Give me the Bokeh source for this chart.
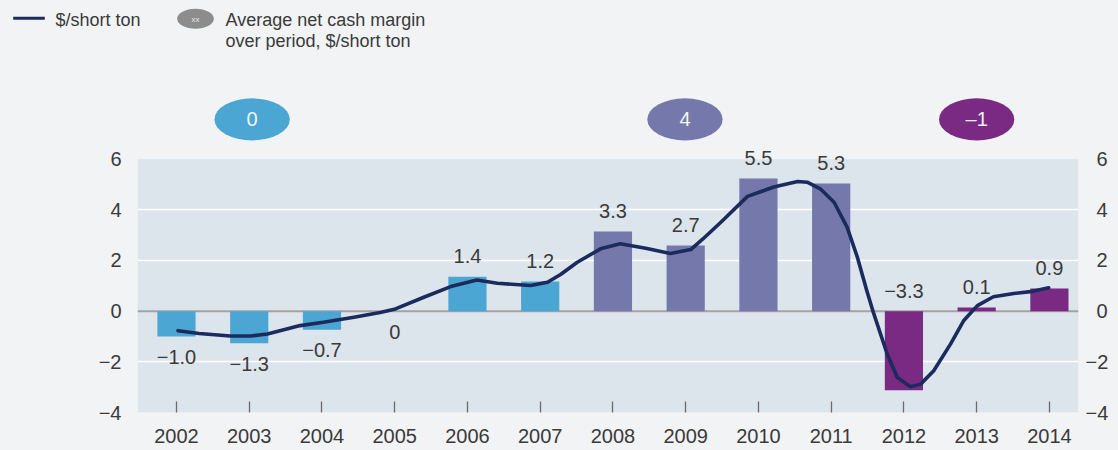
from bokeh.plotting import figure
from bokeh.models import Range1d, FixedTicker, LinearAxis, BoxAnnotation, Span, ColumnDataSource
from bokeh.layouts import column
from bokeh.core.properties import value
from bokeh.embed import file_html
from bokeh.resources import INLINE

# ---------------- data ----------------
years = [2002, 2003, 2004, 2005, 2006, 2007, 2008, 2009, 2010, 2011, 2012, 2013, 2014]
bar_values = [-1.0, -1.27, -0.73, 0.0, 1.36, 1.17, 3.14, 2.59, 5.24, 5.04, -3.12, 0.14, 0.89]
value_labels = ["−1.0", "−1.3", "−0.7", "0", "1.4", "1.2", "3.3", "2.7", "5.5", "5.3", "−3.3", "0.1", "0.9"]
period = ["A", "A", "A", "A", "A", "A", "B", "B", "B", "B", "C", "C", "C"]

period_names = ["A", "B", "C"]
period_avg_labels = ["0", "4", "–1"]

line_x = [2002.02, 2002.31, 2002.74, 2003.02, 2003.25, 2003.70, 2004.02, 2004.44, 2004.80,
          2005.01, 2005.40, 2005.77, 2006.13, 2006.41, 2006.87, 2007.10, 2007.28, 2007.51,
          2007.83, 2008.10, 2008.45, 2008.79, 2009.07, 2009.24, 2009.48, 2009.85, 2010.21,
          2010.54, 2010.67, 2010.85, 2011.04, 2011.22, 2011.36, 2011.49, 2011.58, 2011.77,
          2011.91, 2012.09, 2012.23, 2012.41, 2012.64, 2012.82, 2013.01, 2013.23, 2013.51,
          2013.74, 2013.99]
line_y = [-0.77, -0.88, -0.98, -0.98, -0.90, -0.57, -0.44, -0.24, -0.05,
          0.09, 0.55, 0.97, 1.23, 1.10, 1.01, 1.14, 1.45, 1.93,
          2.46, 2.66, 2.48, 2.28, 2.43, 2.86, 3.50, 4.53, 4.90,
          5.12, 5.09, 4.83, 4.30, 3.31, 2.13, 0.81, -0.05, -1.69,
          -2.62, -2.98, -2.88, -2.35, -1.30, -0.38, 0.22, 0.57, 0.70,
          0.77, 0.92]

y_ticks = [-4, -2, 0, 2, 4, 6]
legend_line_label = "$/short ton"
legend_badge_label = ["Average net cash margin", "over period, $/short ton"]

# ---------------- style ----------------
PAGE = "#f1f3f5"
PLOT_BG = "#dce4ec"
NAVY = "#1c2b5e"
TEXT = "#3a3a3a"
FONT = "Liberation Sans"
period_colors = {"A": "#4ba6d4", "B": "#7478aa", "C": "#7b2a84"}
badge_x = {"A": 2003.04, "B": 2008.99, "C": 2013.0}   # layout positions of the badges
badge_y = 7.57

W = 1118

# ---------------- legend strip (pixel-like coordinates) ----------------
lg = figure(width=W, height=50, x_range=Range1d(0, W), y_range=Range1d(50, 0),
            output_backend="svg", toolbar_location=None, x_axis_type=None, y_axis_type=None,
            min_border=0, outline_line_color=None,
            background_fill_color=PAGE, border_fill_color=PAGE)
lg.frame_align = False
lg.xgrid.visible = False
lg.ygrid.visible = False
lg.line([12.7, 44.3], [17.8, 17.8], line_color=NAVY, line_width=3)
lg.text(x=[55], y=[19], text=[legend_line_label], text_font=value(FONT), text_font_size="18px",
        text_color=TEXT, text_align="left", text_baseline="middle")
lg.ellipse(x=[195], y=[18.3], width=36.7, height=20, fill_color="#8c8c8c", line_color=None)
lg.text(x=[195], y=[18.8], text=["xx"], text_font=value(FONT), text_font_size="8px",
        text_color="#e8e8e8", text_align="center", text_baseline="middle")
lg.text(x=[225, 225], y=[19, 40], text=legend_badge_label, text_font=value(FONT),
        text_font_size="18px", text_color=TEXT, text_align="left", text_baseline="middle")

# ---------------- main chart ----------------
p = figure(width=W, height=400,
           x_range=Range1d(2002 - 0.536, 2014 + 0.40), y_range=Range1d(-4, 8.71),
           output_backend="svg", toolbar_location=None,
           min_border_left=137, min_border_right=40, min_border_top=40, min_border_bottom=38,
           outline_line_color=None, background_fill_color=PAGE, border_fill_color=PAGE)
p.frame_align = False

p.add_layout(BoxAnnotation(bottom=-4, top=6, fill_color=PLOT_BG, fill_alpha=1,
                           line_color=None, level="image"))

p.xgrid.visible = False
p.ygrid.ticker = FixedTicker(ticks=[-2, 2, 4])
p.ygrid.grid_line_color = "white"
p.ygrid.grid_line_width = 1.6

p.add_layout(Span(location=0, dimension="width", line_color="#a3a3a3", line_width=2,
                  level="underlay"))

src = ColumnDataSource(dict(
    x=years, top=bar_values, color=[period_colors[k] for k in period]))
p.vbar(x="x", top="top", bottom=0, width=0.525, color="color", source=src, line_color=None)

p.line(line_x, line_y, line_color=NAVY, line_width=3.6, line_join="round", line_cap="round")

# value labels
label_up = [v > 0 or i == 10 for i, v in enumerate(bar_values)]
label_y = [(max(v, 0) + 0.80) if up else (min(v, 0) - 0.82) for v, up in zip(bar_values, label_up)]
p.text(x=years, y=label_y, text=value_labels, text_font=value(FONT), text_font_size="20px",
       text_color=TEXT, text_align="center", text_baseline="middle")

# period badges
p.ellipse(x=[badge_x[k] for k in period_names], y=[badge_y] * 3, width=1.035, height=1.66,
          fill_color=[period_colors[k] for k in period_names], line_color=None)
p.text(x=[badge_x[k] for k in period_names], y=[badge_y] * 3, text=period_avg_labels,
       text_font=value(FONT), text_font_size="20px", text_color="#f4f4f4",
       text_align="center", text_baseline="middle")

# axes
xa = p.xaxis[0]
xa.ticker = FixedTicker(ticks=years)
xa.axis_line_color = None
xa.major_tick_in = 11
xa.major_tick_out = 0
xa.major_tick_line_color = "#6a6a6a"
xa.major_tick_line_width = 1.3
xa.minor_tick_line_color = None
xa.major_label_standoff = 16
xa.major_label_text_font = FONT
xa.major_label_text_font_size = "20px"
xa.major_label_text_color = TEXT

def minus(t):
    return ("−" + str(abs(t))) if t < 0 else str(t)

ya = p.yaxis[0]
ya.ticker = FixedTicker(ticks=y_ticks)
ya.major_label_overrides = {t: minus(t) for t in y_ticks}
ya.axis_line_color = None
ya.major_tick_line_color = None
ya.major_tick_in = 0
ya.major_tick_out = 0
ya.minor_tick_line_color = None
ya.major_label_text_font = FONT
ya.major_label_text_font_size = "20px"
ya.major_label_text_color = TEXT
ya.major_label_standoff = 16

ra = LinearAxis(ticker=FixedTicker(ticks=y_ticks))
ra.major_label_overrides = {t: (minus(t) if t < 0 else "\u2007" + str(t)) for t in y_ticks}
ra.axis_line_color = None
ra.major_tick_line_color = None
ra.major_tick_in = 0
ra.major_tick_out = 0
ra.minor_tick_line_color = None
ra.major_label_text_font = FONT
ra.major_label_text_font_size = "20px"
ra.major_label_text_color = TEXT
ra.major_label_standoff = 7
p.add_layout(ra, "right")

layout = column(lg, p)

html = file_html(layout, INLINE)
html = html.replace("<head>", "<head><style>html,body{background:#f1f3f5;overflow:hidden;}</style>", 1)
open("out.html", "w").write(html)
